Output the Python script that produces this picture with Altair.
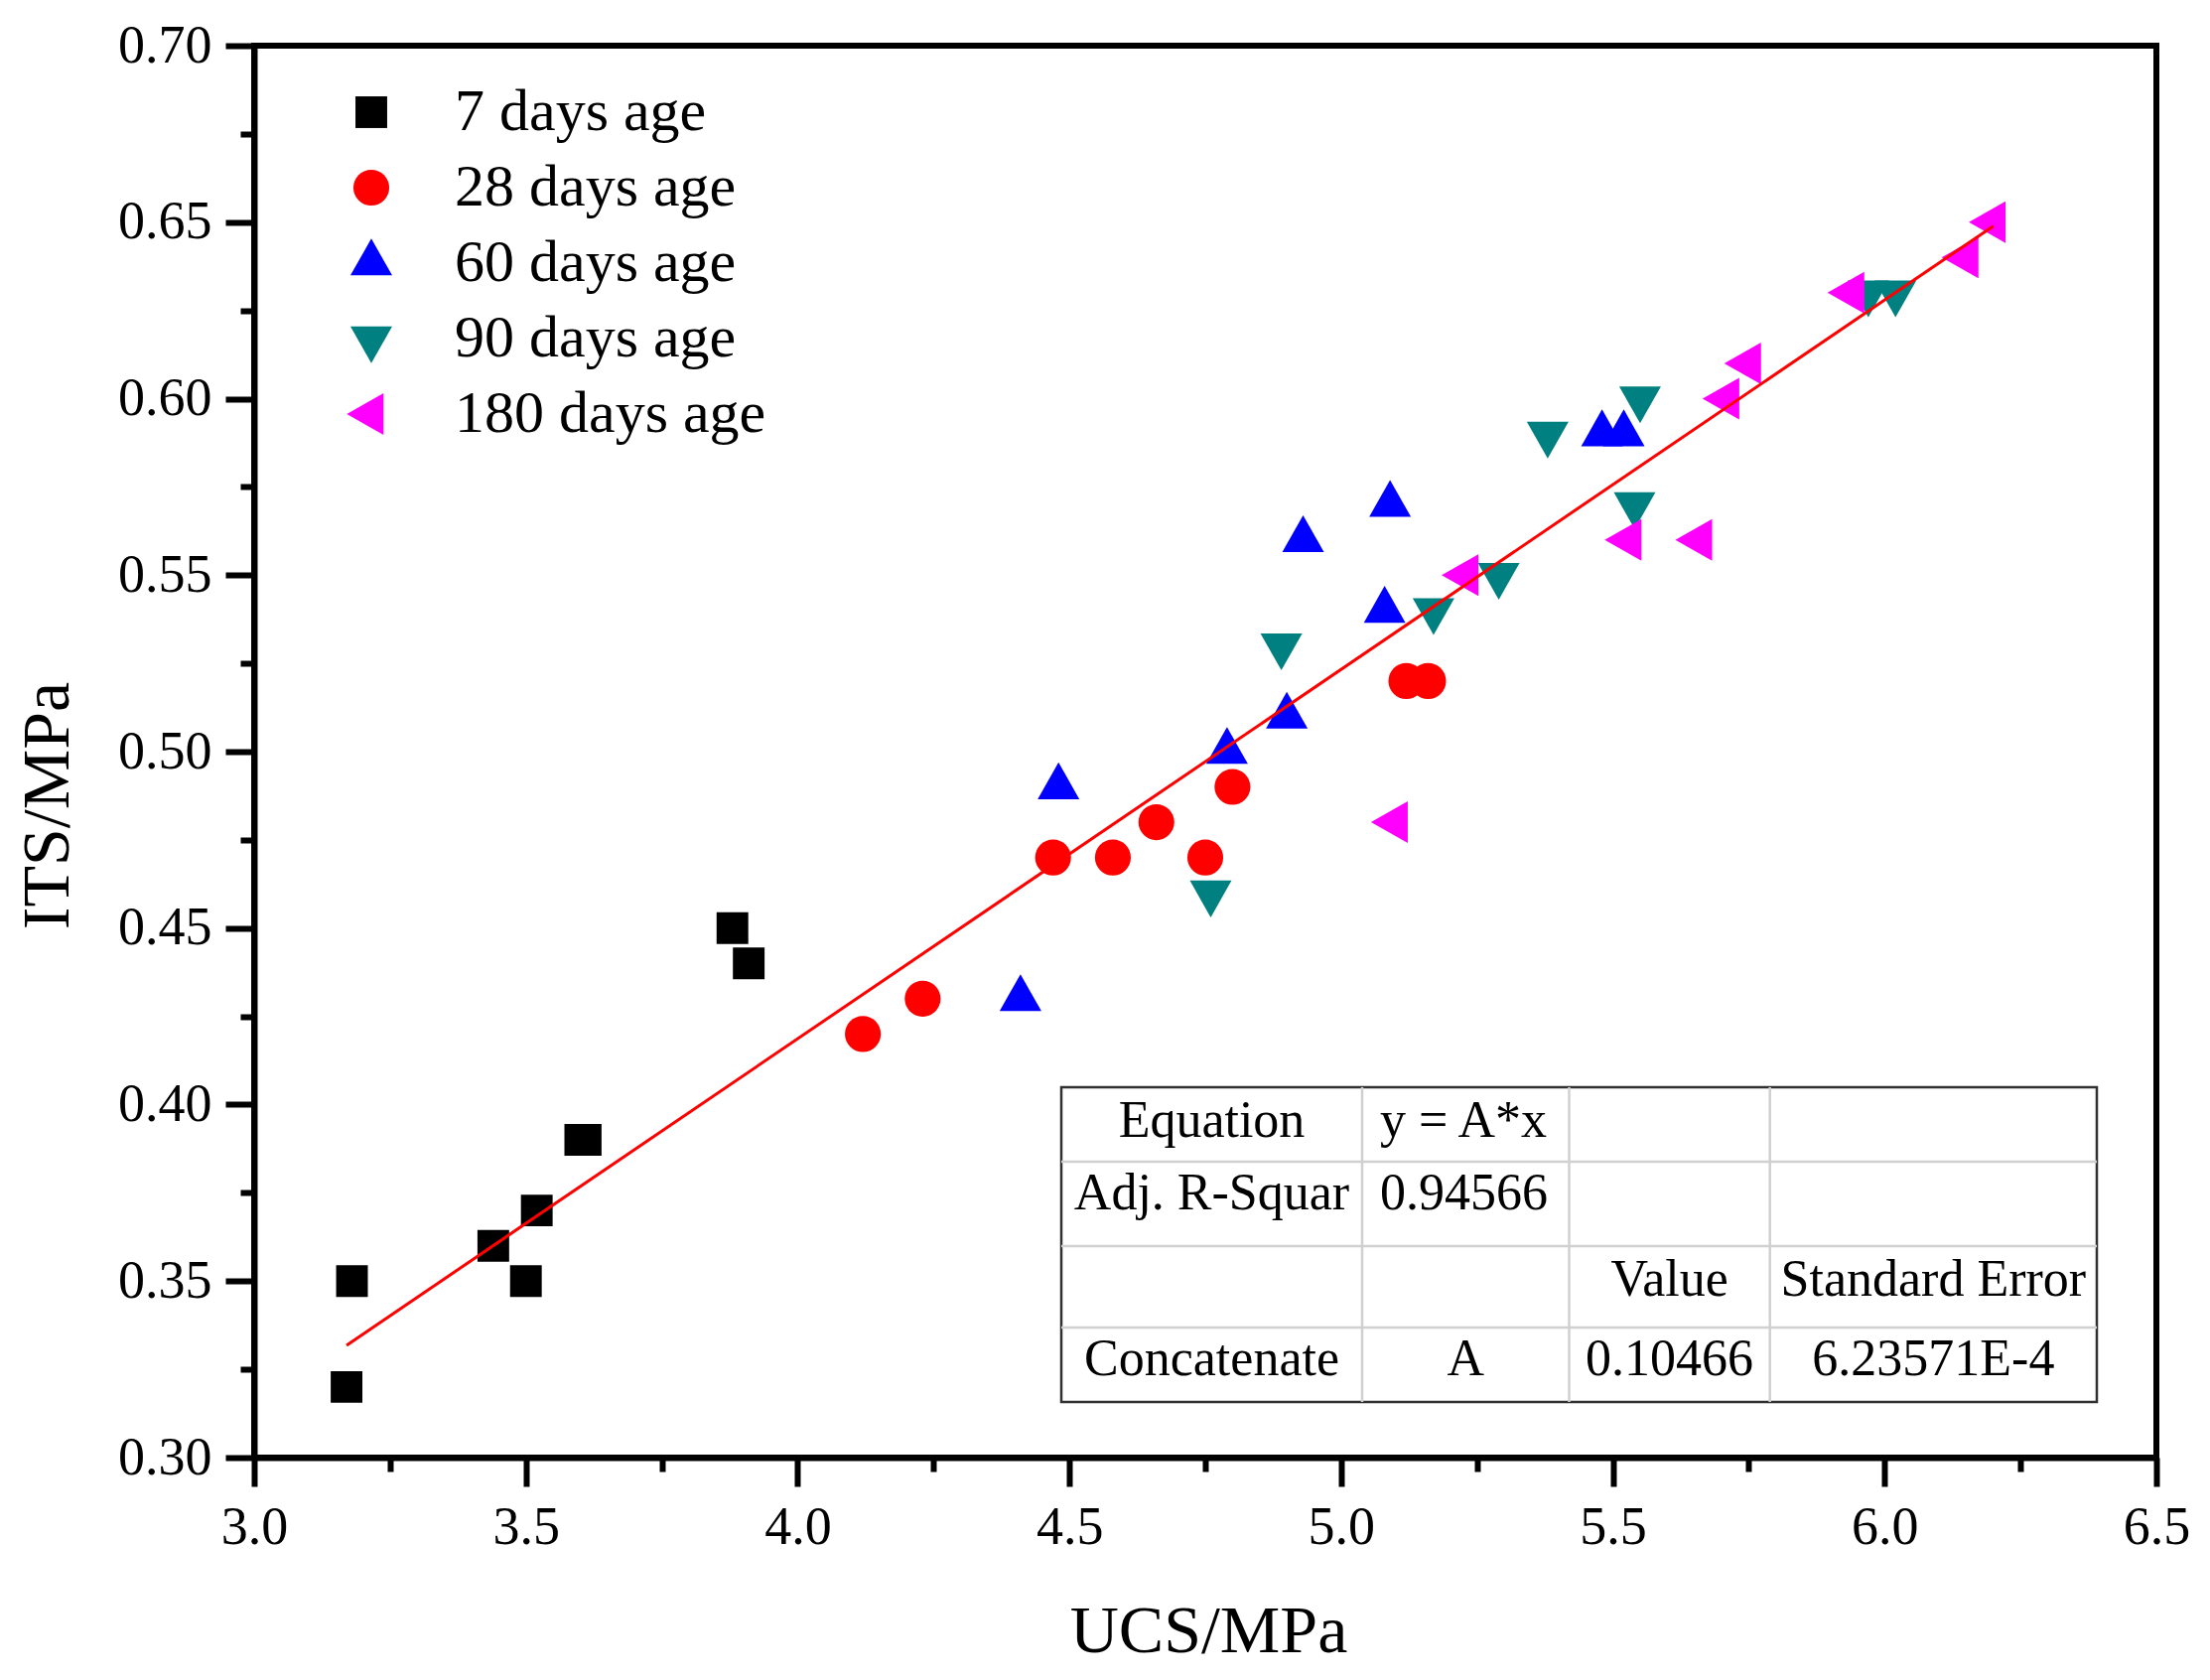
import altair as alt
import pandas as pd

# series
series = ["7 days age", "28 days age", "60 days age", "90 days age", "180 days age"]

ucs_7 = [3.17, 3.18, 3.44, 3.50, 3.52, 3.60, 3.61, 3.88, 3.91]
its_7 = [0.32, 0.35, 0.36, 0.35, 0.37, 0.39, 0.39, 0.45, 0.44]

ucs_28 = [4.12, 4.23, 4.47, 4.58, 4.66, 4.75, 4.80, 5.12, 5.16]
its_28 = [0.42, 0.43, 0.47, 0.47, 0.48, 0.47, 0.49, 0.52, 0.52]

ucs_60 = [4.41, 4.48, 4.79, 4.90, 4.93, 5.08, 5.09, 5.48, 5.52]
its_60 = [0.43, 0.49, 0.50, 0.51, 0.56, 0.54, 0.57, 0.59, 0.59]

ucs_90 = [4.76, 4.89, 5.17, 5.29, 5.38, 5.54, 5.55, 5.97, 6.02]
its_90 = [0.46, 0.53, 0.54, 0.55, 0.59, 0.57, 0.60, 0.63, 0.63]

ucs_180 = [5.10, 5.23, 5.53, 5.66, 5.71, 5.75, 5.94, 6.15, 6.20]
its_180 = [0.48, 0.55, 0.56, 0.56, 0.60, 0.61, 0.63, 0.64, 0.65]

# linear fit y = A*x (ends of the drawn line)
fit_ucs = [3.17, 6.20]
fit_its = [0.3318, 0.6489]

x_ticks = [3.0, 3.25, 3.5, 3.75, 4.0, 4.25, 4.5, 4.75, 5.0, 5.25, 5.5, 5.75, 6.0, 6.25, 6.5]
y_ticks = [0.3, 0.325, 0.35, 0.375, 0.4, 0.425, 0.45, 0.475, 0.5, 0.525,
           0.55, 0.575, 0.6, 0.625, 0.65, 0.675, 0.7]

# fit-result table text
table_cells = [
    ("Equation", 0, 0, "center"), ("y = A*x", 0, 1, "left"),
    ("Adj. R-Squar", 1, 0, "center"), ("0.94566", 1, 1, "left"),
    ("Value", 2, 2, "center"), ("Standard Error", 2, 3, "center"),
    ("Concatenate", 3, 0, "center"), ("A", 3, 1, "center"),
    ("0.10466", 3, 2, "center"), ("6.23571E-4", 3, 3, "center"),
]

FONT = "Liberation Serif"
W, H = 1916, 1422

colors = ["#000000", "#ff0000", "#0000ff", "#008080", "#ff00ff"]
# unit symbol paths (all drawn at one mark size), triangles centred on centroid
shapes = [
    "M-0.76,-0.76L0.76,-0.76L0.76,0.76L-0.76,0.76Z",
    "M0.86,0A0.86,0.86,0,1,1,-0.86,0A0.86,0.86,0,1,1,0.86,0Z",
    "M0,-1.175L1,0.587L-1,0.587Z",
    "M0,1.175L1,-0.587L-1,-0.587Z",
    "M-1.175,0L0.587,-1L0.587,1Z",
]
SYM = 1764

rows = []
for name, xs, ys in zip(series, [ucs_7, ucs_28, ucs_60, ucs_90, ucs_180],
                        [its_7, its_28, its_60, its_90, its_180]):
    for x, y in zip(xs, ys):
        rows.append({"UCS": x, "ITS": y, "age": name})
pts = pd.DataFrame(rows)
fit_df = pd.DataFrame({"UCS": fit_ucs, "ITS": fit_its})

x_scale = alt.Scale(domain=[3.0, 6.5], nice=False, zero=False)
y_scale = alt.Scale(domain=[0.30, 0.70], nice=False, zero=False)

x_axis = alt.Axis(
    values=x_ticks, grid=False,
    labelExpr="round(datum.value*100) % 50 == 0 ? format(datum.value, '.1f') : ''",
    tickSize={"condition": {"test": "round(datum.value*100) % 50 != 0", "value": 14}, "value": 29},
    tickWidth=6, domainWidth=6, tickColor="black", domainColor="black",
    labelFont=FONT, labelFontSize=54, labelColor="black", labelPadding=14,
    labelFlush=False, labelOverlap=False,
    title="UCS/MPa", titleFont=FONT, titleFontSize=68, titleFontWeight="normal",
    titleColor="black", titleX=961, titleY=195, titleAlign="center", titleBaseline="alphabetic",
)
y_axis = alt.Axis(
    values=y_ticks, grid=False,
    labelExpr="round(datum.value*1000) % 50 == 0 ? format(datum.value, '.2f') : ''",
    tickSize={"condition": {"test": "round(datum.value*1000) % 50 != 0", "value": 14}, "value": 29},
    tickWidth=6, domainWidth=6, tickColor="black", domainColor="black",
    labelFont=FONT, labelFontSize=54, labelColor="black", labelPadding=14,
    labelFlush=False, labelOverlap=False,
    title="ITS/MPa", titleFont=FONT, titleFontSize=68, titleFontWeight="normal",
    titleColor="black", titleX=-188, titleY=765, titleAlign="center", titleBaseline="alphabetic",
)

legend = alt.Legend(
    orient="none", legendX=88, legendY=37, title=None, padding=0,
    labelFont=FONT, labelFontSize=60, labelColor="black", labelOffset=54, labelLimit=0,
    rowPadding=16, symbolStrokeWidth=0, symbolOpacity=1, symbolSize=SYM,
)

points = alt.Chart(pts).mark_point(filled=True, opacity=1, strokeWidth=0, size=SYM).encode(
    x=alt.X("UCS:Q", scale=x_scale, axis=x_axis),
    y=alt.Y("ITS:Q", scale=y_scale, axis=y_axis),
    color=alt.Color("age:N", scale=alt.Scale(domain=series, range=colors), legend=legend),
    shape=alt.Shape("age:N", scale=alt.Scale(domain=series, range=shapes), legend=legend),
)

fit = alt.Chart(fit_df).mark_line(color="#ff0000", strokeWidth=3).encode(
    x="UCS:Q", y="ITS:Q"
)

# table layout in pixels from the plot's top-left corner
col_edges = [813, 1116, 1324.5, 1526.7, 1856]
row_edges = [1049, 1124, 1209, 1291, 1366]
row_base = [1099, 1172, 1259, 1339]

box = alt.Chart(pd.DataFrame({"a": [0]})).mark_rect(
    fill="white", stroke="#303030", strokeWidth=2.5
).encode(
    x=alt.value(col_edges[0]), x2=alt.value(col_edges[-1]),
    y=alt.value(row_edges[0]), y2=alt.value(row_edges[-1]),
)

lines = [{"x": c, "x2": c, "y": row_edges[0], "y2": row_edges[-1]} for c in col_edges[1:-1]]
lines += [{"x": col_edges[0], "x2": col_edges[-1], "y": r, "y2": r} for r in row_edges[1:-1]]
grid = alt.Chart(pd.DataFrame(lines)).mark_rule(color="#d0d0d0", strokeWidth=2.5).encode(
    x=alt.X("x:Q", scale=None, axis=None), x2="x2:Q",
    y=alt.Y("y:Q", scale=None, axis=None), y2="y2:Q",
)

cells = []
for text, r, c, al in table_cells:
    px = col_edges[c] + 18 if al == "left" else (col_edges[c] + col_edges[c + 1]) / 2
    cells.append({"t": text, "px": px, "py": row_base[r], "al": al})
cells = pd.DataFrame(cells)


def cell_text(align):
    return alt.Chart(cells[cells["al"] == align]).mark_text(
        font=FONT, fontSize=52, color="black", align=align, baseline="alphabetic"
    ).encode(
        x=alt.X("px:Q", scale=None, axis=None),
        y=alt.Y("py:Q", scale=None, axis=None),
        text="t:N",
    )


chart = alt.layer(points, fit, box, grid, cell_text("center"), cell_text("left")).properties(
    width=W, height=H,
    autosize=alt.AutoSizeParams(type="none"),
    padding={"left": 248, "top": 38, "right": 46, "bottom": 216},
    background="white",
).configure(
    font=FONT
).configure_axis(
    labelFont=FONT, titleFont=FONT
).configure_legend(
    labelFont=FONT
).configure_view(stroke="black", strokeWidth=6)

chart.save("out.html", embed_options={"renderer": "svg", "actions": False})
